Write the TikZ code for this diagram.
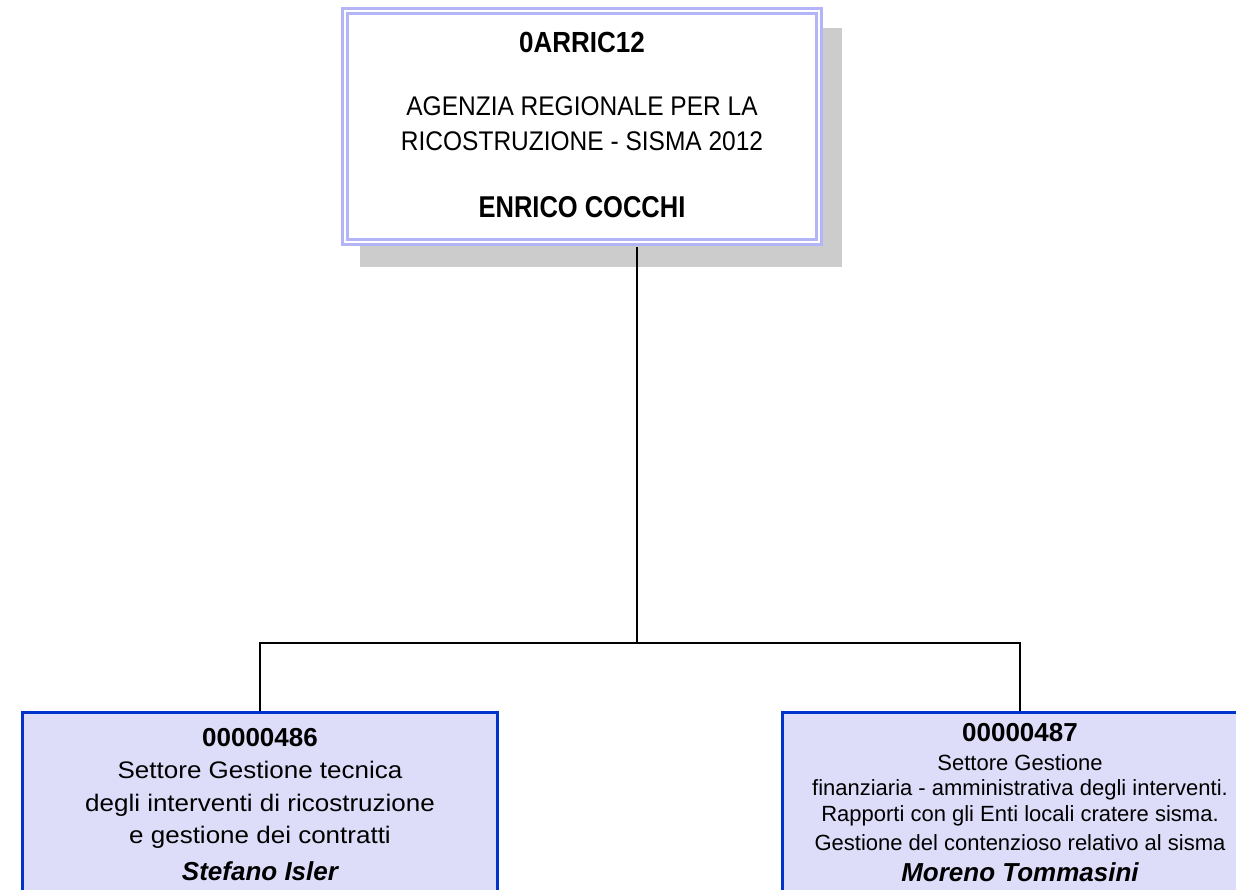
\documentclass[tikz,border=0pt]{standalone}
\usepackage{fontspec}
\setmainfont{Liberation Sans}
\usepackage{graphicx}
\usepackage{tikz}
\definecolor{frame}{RGB}{180,180,248}
\definecolor{shade}{RGB}{204,204,204}
\definecolor{unitfill}{RGB}{221,221,250}
\definecolor{unitline}{RGB}{0,51,204}
\newcommand{\tall}[2]{\scalebox{1}[#1]{#2}}

\begin{document}
\begin{tikzpicture}[x=1pt,y=-1pt]
    \def\ax{582}
    \def\ay{126.5}
    \def\tx{637}
    \def\hy{643}
    \def\lx{260}
    \def\rx{1020}
    \def\uy{712.5}

    \tikzstyle{shadowbox}=[fill=shade,inner sep=0pt,minimum width=482pt,minimum height=239pt]
    \tikzstyle{agencybox}=[draw=frame,double=white,line width=3pt,double distance=1.7pt,fill=white,inner sep=0pt,minimum width=474pt,minimum height=231pt]
    \tikzstyle{unitbox}=[draw=unitline,fill=unitfill,line width=2.5pt,inner sep=0pt,minimum width=475pt,minimum height=300pt]
    \tikzstyle{code}=[font=\fontsize{26}{30}\selectfont\bfseries,anchor=base,inner sep=0pt]
    \tikzstyle{head}=[font=\fontsize{24.5}{29}\selectfont,anchor=base,inner sep=0pt]
    \tikzstyle{chief}=[font=\fontsize{25.5}{30}\selectfont\bfseries,anchor=base,inner sep=0pt]
    \tikzstyle{desc}=[font=\fontsize{26}{30}\selectfont,anchor=base,inner sep=0pt]
    \tikzstyle{smalldesc}=[font=\fontsize{22}{26}\selectfont,anchor=base,inner sep=0pt]
    \tikzstyle{boss}=[font=\fontsize{26}{30}\selectfont\bfseries\itshape,anchor=base,inner sep=0pt]
    \tikzstyle{link}=[draw=black,line width=2pt]

    \useasboundingbox (0,0) rectangle (1236,890);
    \fill[white] (0,0) rectangle (1236,890);
    \clip (0,0) rectangle (1236,890);

    % agency
    \node[shadowbox] (as) at (\ax+19,\ay+21) {};
    \node[agencybox] (ab) at (\ax,\ay) {};
    \node[code]  (a0) at (\ax,53) {\tall{1.12}{0ARRIC12}};
    \node[head]  (a1) at (\ax,115.7) {\tall{1.1}{AGENZIA REGIONALE PER LA}};
    \node[head]  (a2) at (\ax,150.7) {\tall{1.1}{RICOSTRUZIONE - SISMA 2012}};
    \node[chief] (a3) at (\ax,218) {\tall{1.18}{ENRICO COCCHI}};

    % settore 486
    \node[unitbox] (lb) at (\lx,\uy+150) {};
    \node[code] (l0) at (\lx,746.7) {00000486};
    \node[desc] (l1) at (\lx,778) {\tall{0.92}{Settore Gestione tecnica}};
    \node[desc] (l2) at (\lx,811) {\tall{0.92}{degli interventi di ricostruzione}};
    \node[desc] (l3) at (\lx,843) {\tall{0.92}{e gestione dei contratti}};
    \node[boss] (l4) at (\lx,880) {Stefano Isler};

    % settore 487
    \node[unitbox] (rb) at (\rx,\uy+150) {};
    \node[code]      (r0) at (\rx,741.7) {00000487};
    \node[smalldesc] (r1) at (\rx,770) {Settore Gestione};
    \node[smalldesc] (r2) at (\rx,795.5) {finanziaria - amministrativa degli interventi.};
    \node[smalldesc] (r3) at (\rx,821.7) {Rapporti con gli Enti locali cratere sisma.};
    \node[smalldesc] (r4) at (\rx,850) {Gestione del contenzioso relativo al sisma};
    \node[boss]      (r5) at (\rx,881.7) {Moreno Tommasini};

    \coordinate (tr) at (\tx,\hy);
    \draw [link,shorten <=4pt] (ab.south -| tr) -- (tr);
    \draw [link] (lb.north) -- (lb.north |- tr) -- (rb.north |- tr) -- (rb.north);

\end{tikzpicture}
\end{document}
